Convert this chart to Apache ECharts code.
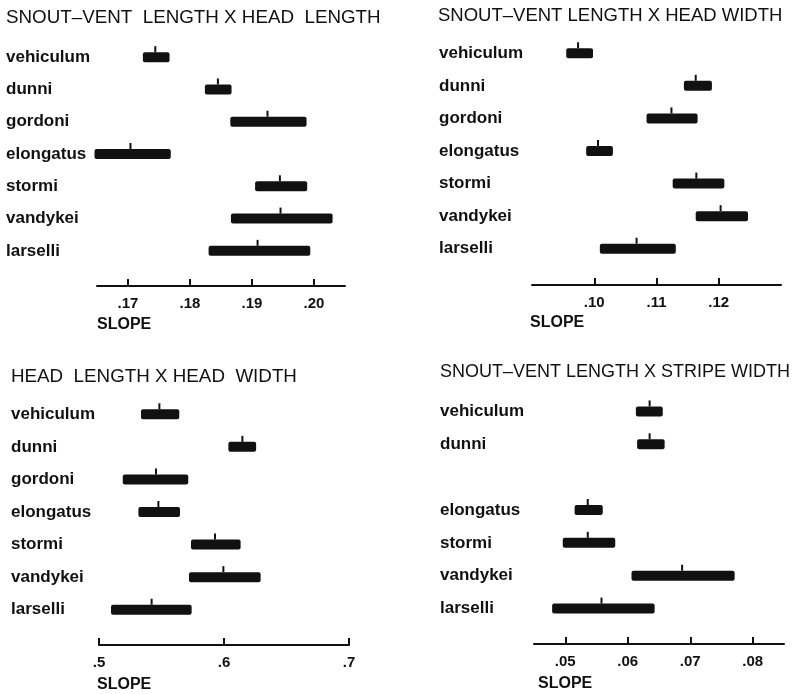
<!DOCTYPE html>
<html>
<head>
<meta charset="utf-8">
<script src="https://cdn.jsdelivr.net/npm/echarts@6/dist/echarts.min.js"></script>
<style>
  html, body { margin: 0; padding: 0; background: #fff; }
  #main { width: 798px; height: 694px; }
</style>
</head>
<body>
<div id="main"></div>
<script>
// species rows, top to bottom
var species = ['vehiculum', 'dunni', 'gordoni', 'elongatus', 'stormi', 'vandykei', 'larselli'];
// stripe width panel has no gordoni row
var speciesStripe = ['vehiculum', 'dunni', '', 'elongatus', 'stormi', 'vandykei', 'larselli'];

// [low, mean, high] slope for each species
var svlHeadLength = [
    [0.1724, 0.1744, 0.1767],
    [0.1824, 0.1845, 0.1867],
    [0.1865, 0.1925, 0.1988],
    [0.1646, 0.1704, 0.1769],
    [0.1905, 0.1945, 0.1989],
    [0.1866, 0.1946, 0.2030],
    [0.1830, 0.1909, 0.1994]
];
var svlHeadWidth = [
    [0.0955, 0.0974, 0.0998],
    [0.1144, 0.1163, 0.1189],
    [0.1084, 0.1124, 0.1166],
    [0.0987, 0.1006, 0.1030],
    [0.1126, 0.1164, 0.1209],
    [0.1163, 0.1203, 0.1247],
    [0.1009, 0.1068, 0.1131]
];
var hlHeadWidth = [
    [0.5336, 0.5483, 0.5642],
    [0.6035, 0.6147, 0.6257],
    [0.5190, 0.5456, 0.5714],
    [0.5315, 0.5475, 0.5648],
    [0.5736, 0.5928, 0.6133],
    [0.5720, 0.5995, 0.6293],
    [0.5096, 0.5421, 0.5741]
];
var svlStripeWidth = [
    [0.0613, 0.0635, 0.0656],
    [0.0615, 0.0635, 0.0659],
    null,
    [0.0515, 0.0536, 0.0560],
    [0.0496, 0.0536, 0.0580],
    [0.0606, 0.0687, 0.0771],
    [0.0479, 0.0558, 0.0643]
];

// tick labels
var ticksHeadLength = [0.17, 0.18, 0.19, 0.20];
var ticksHeadWidth = [0.10, 0.11, 0.12];
var ticksHlHw = [0.5, 0.6, 0.7];
var ticksStripe = [0.05, 0.06, 0.07, 0.08];

var panelTitles = [
    'SNOUT\u2013VENT  LENGTH X HEAD  LENGTH',
    'SNOUT\u2013VENT LENGTH X HEAD WIDTH',
    'HEAD  LENGTH X HEAD  WIDTH',
    'SNOUT\u2013VENT LENGTH X STRIPE WIDTH'
];

var FONT = '"Liberation Sans", Arial, sans-serif';
var INK = '#111';

function toRows(arr) {
    var out = [];
    arr.forEach(function (r, i) {
        if (r) out.push([i, r[0], r[1], r[2]]);
    });
    return out;
}

function renderRange(params, api) {
    var row = api.value(0);
    var lo = api.coord([api.value(1), row]);
    var mid = api.coord([api.value(2), row]);
    var hi = api.coord([api.value(3), row]);
    var h = 10;
    return {
        type: 'group',
        children: [
            {
                type: 'rect',
                shape: { x: lo[0], y: lo[1] - h / 2, width: hi[0] - lo[0], height: h, r: 2 },
                style: { fill: INK }
            },
            {
                type: 'line',
                shape: { x1: mid[0], y1: lo[1] - h / 2, x2: mid[0], y2: lo[1] - h / 2 - 6 },
                style: { stroke: INK, lineWidth: 2 }
            }
        ]
    };
}

function fmt(digits) {
    return function (v) { return v.toFixed(digits).replace(/^0/, ''); };
}

var panels = [
    { data: svlHeadLength, cats: species, min: 0.165, max: 0.205, ticks: ticksHeadLength, digits: 2,
      grid: { left: 97, width: 248, top: 41, height: 226 }, offset: 19, labelX: 6 },
    { data: svlHeadWidth, cats: species, min: 0.09, max: 0.13, ticks: ticksHeadWidth, digits: 2,
      grid: { left: 532, width: 249, top: 37, height: 228 }, offset: 20, labelX: 439 },
    { data: hlHeadWidth, cats: species, min: 0.5, max: 0.7, ticks: ticksHlHw, digits: 1,
      grid: { left: 99, width: 250, top: 398, height: 228 }, offset: 19, labelX: 11 },
    { data: svlStripeWidth, cats: speciesStripe, min: 0.045, max: 0.085, ticks: ticksStripe, digits: 2,
      grid: { left: 534, width: 250, top: 395, height: 230 }, offset: 19, labelX: 440 }
];

var titlePos = [[6, 8], [438, 6], [11, 367], [440, 363]];
var titleSize = [18.8, 18.5, 18.8, 18];
var slopePos = [[97, 317], [530, 315], [97, 677], [538, 676]];

var option = {
    backgroundColor: '#fff',
    animation: false,
    title: [],
    grid: [],
    xAxis: [],
    yAxis: [],
    series: []
};

panels.forEach(function (p, i) {
    option.title.push({
        text: panelTitles[i], left: titlePos[i][0], top: titlePos[i][1], padding: 0,
        textStyle: { fontFamily: FONT, fontSize: titleSize[i], fontWeight: 'normal', color: INK }
    });
    option.title.push({
        text: 'SLOPE', left: slopePos[i][0], top: slopePos[i][1], padding: 0,
        textStyle: { fontFamily: FONT, fontSize: 16, fontWeight: 'bold', color: INK }
    });
    option.grid.push(Object.assign({ outerBoundsMode: 'none', containLabel: false }, p.grid));
    option.xAxis.push({
        type: 'value', gridIndex: i, min: p.min, max: p.max, offset: p.offset,
        splitLine: { show: false },
        axisLine: { show: true, lineStyle: { color: INK, width: 2 } },
        axisTick: { show: true, inside: true, length: 7, customValues: p.ticks, lineStyle: { color: INK, width: 2 } },
        axisLabel: { customValues: p.ticks, formatter: fmt(p.digits), margin: 10,
                     fontFamily: FONT, fontSize: 15, fontWeight: 'bold', color: INK }
    });
    option.yAxis.push({
        type: 'category', gridIndex: i, data: p.cats, inverse: true,
        axisLine: { show: false }, axisTick: { show: false }, splitLine: { show: false },
        axisLabel: { align: 'left', margin: p.grid.left - p.labelX, padding: [0, 0, 4, 0],
                     fontFamily: FONT, fontSize: 17, fontWeight: 'bold', color: INK }
    });
    option.series.push({
        type: 'custom', xAxisIndex: i, yAxisIndex: i,
        renderItem: renderRange,
        encode: { x: [1, 2, 3], y: 0 },
        data: toRows(p.data)
    });
});

var chart = echarts.init(document.getElementById('main'));
chart.setOption(option);
</script>
</body>
</html>
